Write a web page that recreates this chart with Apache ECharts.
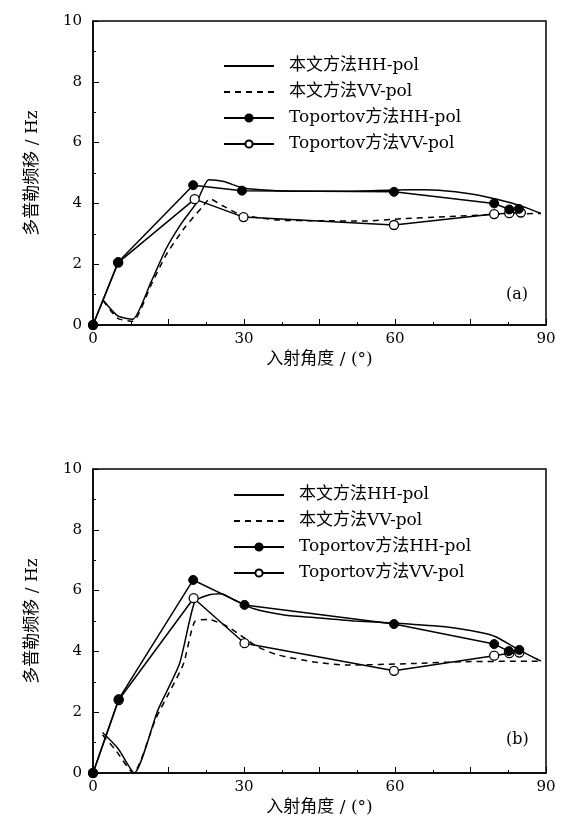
<!DOCTYPE html>
<html>
<head>
<meta charset="utf-8">
<script src="https://cdn.jsdelivr.net/npm/echarts@6/dist/echarts.min.js"></script>
<style>
html, body { margin: 0; padding: 0; background: #fff; }
#main { width: 561px; height: 838px; }
</style>
</head>
<body>
<div id="main"></div>
<script>
var FONT = '"DejaVu Serif", "Liberation Serif", "Noto Sans CJK SC", serif';

var names = ['本文方法HH-pol', '本文方法VV-pol', 'Toportov方法HH-pol', 'Toportov方法VV-pol'];
var xTicks = [0, 30, 60, 90];

// (a)
var aModelHH = [[2, 0.82], [4.9, 0.3], [7.9, 0.19], [11.5, 1.4], [14.5, 2.5], [17.6, 3.35], [20.5, 4.0], [23, 4.78],
  [26, 4.72], [30, 4.5], [40, 4.4], [50, 4.4], [60, 4.44], [66, 4.45], [72, 4.38], [78, 4.22], [83, 4.02], [86, 3.86], [89, 3.67]];
var aModelVV = [[2, 0.8], [4.9, 0.22], [7.9, 0.12], [11.5, 1.3], [14.5, 2.3], [18.2, 3.2], [21.8, 3.9], [23.2, 4.15],
  [26, 3.9], [29.5, 3.62], [37, 3.45], [45, 3.43], [53.5, 3.42], [62, 3.5], [70, 3.56], [80, 3.64], [89, 3.67]];
var aTopHH = [[0, 0], [5, 2.07], [19.9, 4.6], [29.6, 4.42], [59.8, 4.38], [79.7, 4.0], [82.7, 3.8], [84.6, 3.82]];
var aTopVV = [[0, 0], [5, 2.05], [20.2, 4.14], [29.9, 3.55], [59.8, 3.29], [79.7, 3.65], [82.7, 3.68], [85, 3.7]];

// (b)
var bModelHH = [[1.9, 1.33], [5, 0.8], [8.2, 0], [12.9, 2.07], [17.2, 3.6], [20.2, 5.63], [22.8, 5.85], [25.5, 5.9],
  [28, 5.7], [32, 5.4], [38, 5.2], [45, 5.1], [52, 5.0], [60, 4.93], [70, 4.81], [77, 4.62], [80, 4.48], [84.6, 4.05], [89, 3.68]];
var bModelVV = [[1.9, 1.25], [4.5, 0.75], [8, 0], [12.5, 1.8], [15, 2.6], [18, 3.6], [20.2, 4.98], [22.9, 5.05],
  [26.8, 4.81], [30, 4.45], [32.7, 4.15], [36.8, 3.88], [44, 3.65], [50.3, 3.55], [63.5, 3.6], [73.4, 3.66], [89, 3.68]];
var bTopHH = [[0, 0], [5.1, 2.43], [19.9, 6.35], [30.1, 5.53], [59.8, 4.9], [79.7, 4.24], [82.6, 4.01], [84.7, 4.05]];
var bTopVV = [[0, 0], [5.1, 2.4], [20, 5.75], [30.1, 4.27], [59.8, 3.36], [79.7, 3.86], [82.7, 3.94], [84.7, 3.96]];

var chart = echarts.init(document.getElementById('main'));

function xAxisFor(i) {
  return {
    type: 'value', gridIndex: i, min: 0, max: 90, interval: 15,
    name: '入射角度 / (°)', nameLocation: 'middle', nameGap: 26,
    nameTextStyle: { fontFamily: FONT, fontSize: 17, color: '#000' },
    axisLine: { lineStyle: { color: '#000', width: 1.5 } },
    axisTick: { inside: true, length: 6, lineStyle: { color: '#000' } },
    minorTick: { show: true, splitNumber: 2, length: 3, lineStyle: { color: '#000' } },
    splitLine: { show: false },
    axisLabel: {
      fontFamily: FONT, fontSize: 15, color: '#000', margin: 7,
      formatter: function (v) { return xTicks.indexOf(v) >= 0 ? String(v) : ''; }
    }
  };
}
function yAxisFor(i) {
  return {
    type: 'value', gridIndex: i, min: 0, max: 10, interval: 2,
    name: '多普勒频移 / Hz', nameLocation: 'middle', nameGap: 52,
    nameTextStyle: { fontFamily: FONT, fontSize: 17, color: '#000' },
    axisLine: { lineStyle: { color: '#000', width: 1.5 } },
    axisTick: { inside: true, length: 6, lineStyle: { color: '#000' } },
    minorTick: { show: true, splitNumber: 2, length: 3, lineStyle: { color: '#000' } },
    splitLine: { show: false },
    axisLabel: { fontFamily: FONT, fontSize: 15, color: '#000', margin: 11 }
  };
}
function seriesFor(i, mhh, mvv, thh, tvv) {
  var base = { type: 'line', xAxisIndex: i, yAxisIndex: i, animation: false, z: 3 };
  // open-circle series first so the filled dots sit on top where they overlap
  return [
    Object.assign({}, base, { name: names[3], data: tvv, symbol: 'circle', symbolSize: 9,
      lineStyle: { color: '#000', width: 1.5 }, itemStyle: { color: '#fff', borderColor: '#000', borderWidth: 1.3 } }),
    Object.assign({}, base, { name: names[0], data: mhh, smooth: 0.2, symbol: 'none',
      lineStyle: { color: '#000', width: 1.5 }, itemStyle: { color: '#000' } }),
    Object.assign({}, base, { name: names[1], data: mvv, smooth: 0.2, symbol: 'none',
      lineStyle: { color: '#000', width: 1.5, type: [6, 5] }, itemStyle: { color: '#000' } }),
    Object.assign({}, base, { name: names[2], data: thh, symbol: 'circle', symbolSize: 9, z: 4,
      lineStyle: { color: '#000', width: 1.5 }, itemStyle: { color: '#000', borderColor: '#000', borderWidth: 1 } })
  ];
}
function legendFor(left, top) {
  var hide = { color: 'rgba(0,0,0,0)', borderColor: 'rgba(0,0,0,0)', borderWidth: 0 };
  return {
    data: [
      { name: names[0], itemStyle: hide },
      { name: names[1], itemStyle: hide },
      { name: names[2] },
      { name: names[3] }
    ],
    orient: 'vertical', left: left, top: top,
    itemWidth: 50, itemHeight: 9, itemGap: 6,
    textStyle: { fontFamily: FONT, fontSize: 17, color: '#000', lineHeight: 20, padding: [0, 0, 0, 10] },
    selectedMode: false
  };
}

chart.setOption({
  backgroundColor: '#fff',
  animation: false,
  grid: [
    { left: 93, top: 21, width: 453, height: 304, show: true, borderColor: '#000', borderWidth: 1.5 },
    { left: 93, top: 469, width: 453, height: 304, show: true, borderColor: '#000', borderWidth: 1.5 }
  ],
  xAxis: [xAxisFor(0), xAxisFor(1)],
  yAxis: [yAxisFor(0), yAxisFor(1)],
  legend: [legendFor(218, 51), legendFor(228, 480)],
  graphic: [
    { type: 'text', left: 506, top: 287, style: { text: '(a)', font: '16px ' + FONT, fill: '#000' } },
    { type: 'text', left: 506, top: 732, style: { text: '(b)', font: '16px ' + FONT, fill: '#000' } }
  ],
  series: [].concat(
    seriesFor(0, aModelHH, aModelVV, aTopHH, aTopVV),
    seriesFor(1, bModelHH, bModelVV, bTopHH, bTopVV)
  )
});

window.onresize = function () { chart.resize(); };
</script>
</body>
</html>
